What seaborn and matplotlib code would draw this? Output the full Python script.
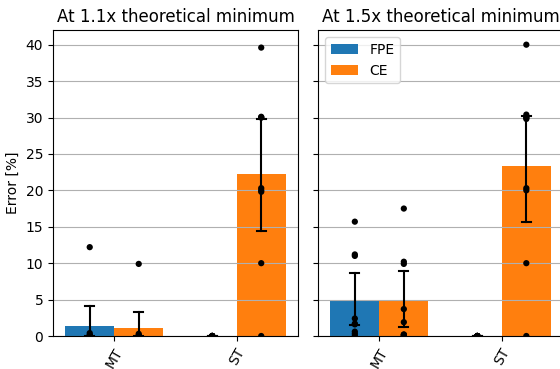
import numpy as np
import pandas as pd
import seaborn as sns
import matplotlib.pyplot as plt

categories = ["MT", "ST"]
methods = ["FPE", "CE"]
titles = ["At 1.1x theoretical minimum", "At 1.5x theoretical minimum"]

# error per run (%), 9 runs each
err_11_mt_fpe = [12.2, 0.4, 0.1, 0.0, 0.0, 0.0, 0.0, 0.0, 0.0]
err_11_mt_ce = [9.9, 0.3, 0.0, 0.0, 0.0, 0.0, 0.0, 0.0, 0.0]
err_11_st_fpe = [0.0, 0.0, 0.0, 0.0, 0.0, 0.0, 0.0, 0.0, 0.0]
err_11_st_ce = [0.0, 10.0, 19.8, 20.3, 20.0, 30.0, 30.0, 30.1, 39.6]

err_15_mt_fpe = [15.7, 11.2, 11.0, 2.4, 1.7, 1.6, 0.6, 0.3, 0.0]
err_15_mt_ce = [17.5, 10.2, 9.9, 3.7, 1.9, 0.2, 0.2, 0.1, 0.0]
err_15_st_fpe = [0.0, 0.0, 0.0, 0.0, 0.0, 0.0, 0.0, 0.0, 0.0]
err_15_st_ce = [0.0, 10.0, 20.0, 20.3, 29.8, 30.0, 30.4, 30.0, 40.0]


def to_long(mt_fpe, mt_ce, st_fpe, st_ce):
    rows = []
    for cat, meth, vals in [("MT", "FPE", mt_fpe), ("MT", "CE", mt_ce),
                            ("ST", "FPE", st_fpe), ("ST", "CE", st_ce)]:
        for v in vals:
            rows.append({"type": cat, "method": meth, "error": v})
    return pd.DataFrame(rows)


df_11 = to_long(err_11_mt_fpe, err_11_mt_ce, err_11_st_fpe, err_11_st_ce)
df_15 = to_long(err_15_mt_fpe, err_15_mt_ce, err_15_st_fpe, err_15_st_ce)

fig = plt.figure(figsize=(5.6, 3.69), dpi=100)
ax1 = fig.add_axes([0.0946, 0.0894, 0.4375, 0.829])
ax2 = fig.add_axes([0.568, 0.0894, 0.4375, 0.829], sharey=ax1)

palette = {"FPE": "#1f77b4", "CE": "#ff7f0e"}

for ax, df, title, show_legend in [(ax1, df_11, titles[0], False), (ax2, df_15, titles[1], True)]:
    sns.barplot(data=df, x="type", y="error", hue="method", order=categories,
                hue_order=methods, palette=palette, saturation=1, capsize=0.15,
                err_kws={"color": "black", "linewidth": 1.5}, seed=1,
                legend=show_legend, ax=ax)
    sns.stripplot(data=df, x="type", y="error", hue="method", order=categories,
                  hue_order=methods, dodge=True, jitter=False, palette=["black", "black"],
                  size=4.5, legend=False, ax=ax)
    ax.grid(axis="y")
    ax.set_title(title)
    ax.set_xlabel("")
    ax.tick_params(axis="x", rotation=60)

ax1.set_ylabel("Error [%]")
ax2.set_ylabel("")
ax2.tick_params(labelleft=False)
ax1.set_yticks(np.arange(0, 45, 5))
ax1.set_ylim(0, 42)
ax2.legend(loc="upper left")

fig.savefig("out.png", dpi=100)
